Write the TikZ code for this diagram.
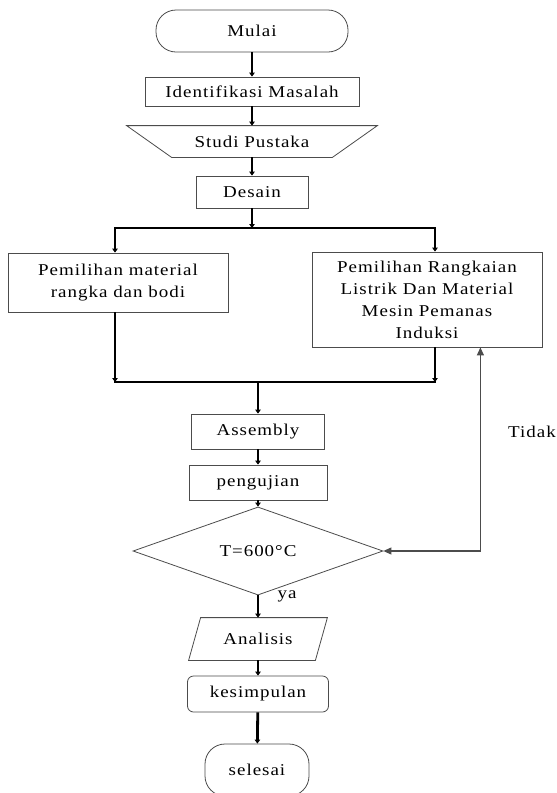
\documentclass[tikz,border=0pt]{standalone}
\usepackage{fontspec}
\setmainfont{Liberation Serif}[FakeStretch=1.15,LetterSpace=6]
\usepackage{tikz}
\usetikzlibrary{arrows.meta,positioning,calc,shapes.geometric}
\tikzset{
  bentuk/.style={draw=black!70,line width=.8pt},
  kotak/.style={bentuk,inner sep=0pt,align=center,font=\fontsize{16.5}{22}\selectfont},
  terminal/.style={kotak,rounded corners=20pt},
  keputusan/.style={kotak,diamond},
  teks/.style={inner sep=0pt,font=\fontsize{16.5}{22}\selectfont},
  garis/.style={line width=2.8pt,line cap=rect},
  panah/.style={-{Triangle[length=4pt,width=5.5pt]},line width=2.8pt},
  umpan/.style={{Triangle[length=8pt,width=7pt]}-{Triangle[length=8pt,width=7pt]},line width=1.1pt,draw=black!70}
}
\begin{document}
\begin{tikzpicture}[x=1pt,y=-1pt]
  \fill[white] (0,0) rectangle (557,793);
  \useasboundingbox (0,0) rectangle (557,793);
  % kolom atas
  \node[terminal,minimum width=192pt,minimum height=42pt] (mulai) at (252,31) {Mulai};
  \node[kotak,minimum width=214pt,minimum height=29pt] (identifikasi) at (252,91.5) {Identifikasi Masalah};
  \node[kotak,draw=none,minimum width=160pt,minimum height=31pt] (studi) at (252,141.5) {Studi Pustaka};
  \draw[bentuk] ($(studi.north west)+(-45pt,0)$) -- ($(studi.north east)+(45pt,0)$)
    -- (studi.south east) -- (studi.south west) -- cycle;
  \node[kotak,minimum width=112pt,minimum height=32pt] (desain) at (252,192) {Desain};
  % cabang
  \node[kotak,minimum width=220pt,minimum height=59pt] (kiri) at (118,282.5) {Pemilihan material\\rangka dan bodi};
  \node[kotak,minimum width=230pt,minimum height=95pt] (kanan) at (427,299.5) {Pemilihan Rangkaian\\Listrik Dan Material\\Mesin Pemanas\\Induksi};
  \coordinate (tl) at (115,228);
  \coordinate (tr) at (435,228);
  \coordinate (bl) at (115,382);
  \coordinate (br) at (435,382);
  % kolom bawah
  \node[kotak,minimum width=133pt,minimum height=35pt] (assembly) at (258,431.5) {Assembly};
  \node[kotak,minimum width=138pt,minimum height=35pt] (pengujian) at (258,482.5) {pengujian};
  \node[keputusan,minimum width=250pt,minimum height=66pt] (cek) at (258,551) {T=600°C};
  \node[kotak,draw=none,minimum width=126pt,minimum height=42pt] (analisis) at (258,639) {Analisis};
  \draw[bentuk] ($(analisis.north west)+(6pt,0)$) -- ($(analisis.north east)+(6pt,0)$)
    -- ($(analisis.south east)+(-6pt,0)$) -- ($(analisis.south west)+(-6pt,0)$) -- cycle;
  \node[kotak,rounded corners=6pt,minimum width=141pt,minimum height=36pt] (kesimpulan) at (258,694) {kesimpulan};
  \node[terminal,minimum width=104pt,minimum height=52pt] (selesai) at (257,770) {selesai};
  \node[teks,anchor=west] (tidak) at (508,432) {Tidak};
  \node[teks] (ya) at (287,596) {ya};
  % panah
  \draw[panah] (mulai) -- (identifikasi);
  \draw[panah] (identifikasi) -- (studi);
  \draw[panah] (studi) -- (desain);
  \draw[panah] (desain) -- (desain.south |- tl);
  \draw[garis] (tl) -- (tr);
  \draw[panah] (tl) -- (tl |- kiri.north);
  \draw[panah] (tr) -- (tr |- kanan.north);
  \draw[panah] (bl |- kiri.south) -- (bl);
  \draw[panah] (br |- kanan.south) -- (br);
  \draw[garis] (bl) -- (br);
  \draw[panah] (assembly.north |- bl) -- (assembly);
  \draw[panah] (assembly) -- (pengujian);
  \draw[panah] (pengujian) -- (cek);
  \draw[panah] (cek) -- (analisis);
  \draw[panah] (analisis) -- (kesimpulan);
  \draw[panah] (kesimpulan) -- (selesai);
  \draw[umpan] ([xshift=-62pt]kanan.south east) |- (cek.east);
\end{tikzpicture}
\end{document}
